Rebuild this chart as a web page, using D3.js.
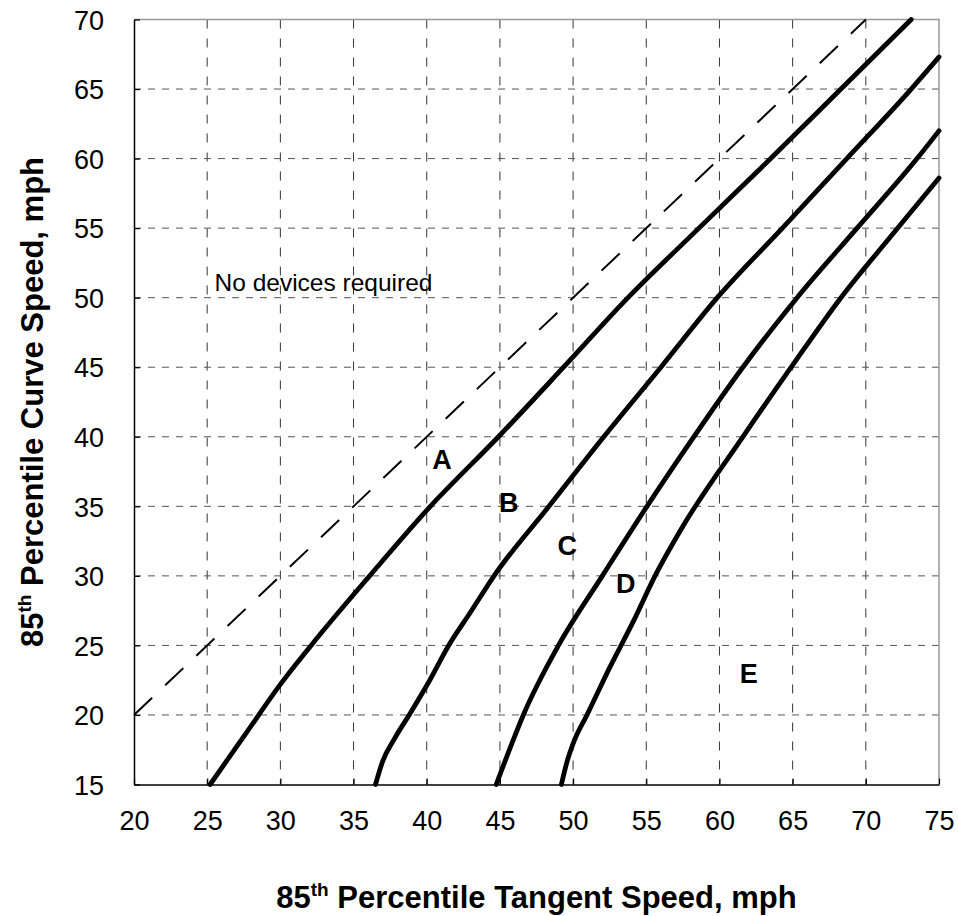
<!DOCTYPE html>
<html>
<head>
<meta charset="utf-8">
<script src="https://cdn.jsdelivr.net/npm/d3@7"></script>
<style>
  body { margin: 0; background: #fff; }
  text { font-family: "Liberation Sans", Arial, sans-serif; }
</style>
</head>
<body>
<div id="vis"></div>
<script>

// Data ----------------------------------------------------------------------

var xTicks = [20, 25, 30, 35, 40, 45, 50, 55, 60, 65, 70, 75],
    yTicks = [15, 20, 25, 30, 35, 40, 45, 50, 55, 60, 65, 70];

// [tangent speed, curve speed]
var equalSpeed = [[20, 20], [70, 70]];

var curveA = [[25.2, 15], [27.6, 18.6], [30, 22.2], [32.1, 25], [36.1, 30], [40.25, 35],
  [44.9, 40], [49.35, 45], [53.75, 50], [58.6, 55], [63.5, 60], [68.3, 65], [73.1, 70]];

var curveB = [[36.5, 15], [37, 16.7], [37.8, 18.3], [38.8, 20], [40.1, 22.3], [41.5, 25],
  [43, 27.4], [44.6, 30], [48.35, 35], [52.1, 40], [56, 45], [59.85, 50], [64.3, 55],
  [68.7, 60], [73.1, 65], [75, 67.3]];

var curveC = [[44.75, 15], [45.8, 17.9], [46.6, 20], [49, 25], [52, 30], [55.05, 35],
  [57.6, 39], [61.6, 45], [65.3, 50], [69.4, 55], [73.5, 60], [75, 62]];

var curveD = [[49.2, 15], [49.55, 16.5], [50.1, 18.2], [50.95, 20], [52.5, 23.4], [54.15, 26.8],
  [55.6, 30], [57.35, 33.3], [61.6, 40], [64.9, 45], [68.3, 50], [71.7, 54.4], [75, 58.6]];

var zoneLabels = [
  {text: "A", x: 41.05, y: 38.4},
  {text: "B", x: 45.6, y: 35.3},
  {text: "C", x: 49.6, y: 32.2},
  {text: "D", x: 53.6, y: 29.45},
  {text: "E", x: 62, y: 23}
];

var note = {text: "No devices required", x: 25.5, y: 51.1};


// Setup ---------------------------------------------------------------------

var margin = {top: 19.5, left: 134, right: 19, bottom: 131.5},
    width = 958 - margin.left - margin.right,
    height = 916 - margin.top - margin.bottom;

var x = d3.scaleLinear().domain([20, 75]).range([0, width]);
var y = d3.scaleLinear().domain([15, 70]).range([height, 0]);

var svg = d3.select("#vis").append("svg")
  .attr("width", 958)
  .attr("height", 916);

var plot = svg.append("g")
  .attr("transform", "translate(" + margin.left + "," + margin.top + ")");


// Grid ----------------------------------------------------------------------

plot.append("g")
  .selectAll("line")
  .data(xTicks.slice(1, -1))
  .enter().append("line")
    .attr("x1", x).attr("x2", x)
    .attr("y1", 0).attr("y2", height)
    .attr("stroke", "#333")
    .attr("stroke-width", 1)
    .attr("stroke-dasharray", "9,10");

plot.append("g")
  .selectAll("line")
  .data(yTicks.slice(1, -1))
  .enter().append("line")
    .attr("x1", 0).attr("x2", width)
    .attr("y1", y).attr("y2", y)
    .attr("stroke", "#555")
    .attr("stroke-width", 1)
    .attr("stroke-dasharray", "7,7");

// top / right frame
plot.append("path")
  .attr("d", "M0,0H" + width + "V" + height)
  .attr("fill", "none")
  .attr("stroke", "#999")
  .attr("stroke-width", 1.5);


// Axes ----------------------------------------------------------------------

var xAxis = d3.axisBottom(x).tickValues(xTicks).tickSizeInner(-6).tickSizeOuter(0).tickPadding(26);
var yAxis = d3.axisLeft(y).tickValues(yTicks).tickSizeInner(-6).tickSizeOuter(0).tickPadding(30);

var gx = plot.append("g")
  .attr("transform", "translate(0," + height + ")")
  .call(xAxis);

var gy = plot.append("g")
  .call(yAxis);

[gx, gy].forEach(function(g) {
  g.select(".domain").attr("stroke", "#000").attr("stroke-width", 1.5);
  g.selectAll(".tick line").attr("stroke", "#000").attr("stroke-width", 1.2);
  g.selectAll(".tick text")
    .attr("fill", "#000")
    .style("font-size", "27px")
    .style("font-family", "'Liberation Sans', Arial, sans-serif");
});
gy.selectAll(".tick text").attr("dy", "0.36em");


// Lines ---------------------------------------------------------------------

var line = d3.line()
  .x(function(d) { return x(d[0]); })
  .y(function(d) { return y(d[1]); })
  .curve(d3.curveMonotoneX);

plot.append("path")
  .datum(equalSpeed)
  .attr("d", line)
  .attr("fill", "none")
  .attr("stroke", "#000")
  .attr("stroke-width", 2)
  .attr("stroke-dasharray", "25,18");

plot.selectAll(".zone")
  .data([curveA, curveB, curveC, curveD])
  .enter().append("path")
    .attr("class", "zone")
    .attr("d", line)
    .attr("fill", "none")
    .attr("stroke", "#000")
    .attr("stroke-width", 4.8)
    .attr("stroke-linecap", "round");


// Labels --------------------------------------------------------------------

plot.selectAll(".zlabel")
  .data(zoneLabels)
  .enter().append("text")
    .attr("class", "zlabel")
    .attr("x", function(d) { return x(d.x); })
    .attr("y", function(d) { return y(d.y); })
    .attr("dy", "0.36em")
    .attr("text-anchor", "middle")
    .style("font-size", "27px")
    .style("font-weight", "bold")
    .text(function(d) { return d.text; });

plot.append("text")
  .attr("x", x(note.x))
  .attr("y", y(note.y))
  .attr("dy", "0.36em")
  .style("font-size", "24.5px")
  .text(note.text);

// x title
var xt = svg.append("text")
  .attr("x", margin.left + width / 2)
  .attr("y", 908)
  .attr("text-anchor", "middle")
  .style("font-size", "31px")
  .style("font-weight", "bold");
xt.append("tspan").text("85");
xt.append("tspan").attr("dy", -12).style("font-size", "19px").text("th");
xt.append("tspan").attr("dy", 12).text(" Percentile Tangent Speed, mph");

// y title
var yt = svg.append("text")
  .attr("transform", "translate(43," + (margin.top + height / 2) + ") rotate(-90)")
  .attr("text-anchor", "middle")
  .style("font-size", "31px")
  .style("font-weight", "bold");
yt.append("tspan").text("85");
yt.append("tspan").attr("dy", -12).style("font-size", "19px").text("th");
yt.append("tspan").attr("dy", 12).text(" Percentile Curve Speed, mph");

</script>
</body>
</html>
